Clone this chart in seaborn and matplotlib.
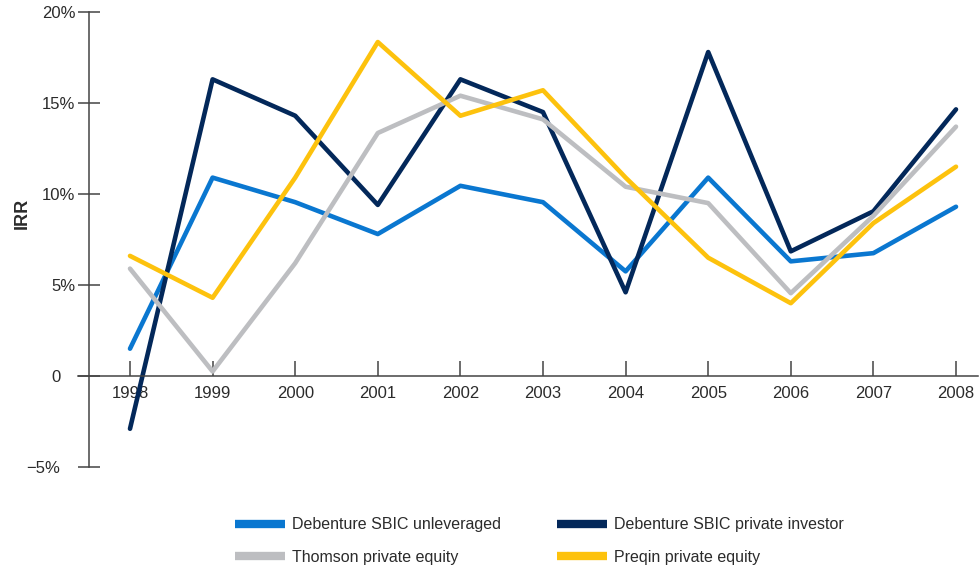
import matplotlib
matplotlib.use("Agg")
import matplotlib.pyplot as plt
import matplotlib.transforms as mtransforms
import seaborn as sns
import pandas as pd
from matplotlib.lines import Line2D

years = [1998, 1999, 2000, 2001, 2002, 2003, 2004, 2005, 2006, 2007, 2008]
unleveraged = [1.5, 10.9, 9.55, 7.8, 10.45, 9.55, 5.75, 10.9, 6.3, 6.75, 9.3]
private_investor = [-2.9, 16.3, 14.3, 9.4, 16.3, 14.5, 4.6, 17.8, 6.85, 9.05, 14.65]
thomson = [5.9, 0.25, 6.2, 13.35, 15.4, 14.1, 10.4, 9.5, 4.55, 8.8, 13.7]
preqin = [6.6, 4.3, 10.9, 18.35, 14.3, 15.7, 10.9, 6.5, 4.0, 8.4, 11.5]

series_names = ["Debenture SBIC unleveraged", "Debenture SBIC private investor",
                "Thomson private equity", "Preqin private equity"]
series_values = [unleveraged, private_investor, thomson, preqin]
colors = ["#0A77D0", "#03285A", "#BDBEC1", "#FDC20D"]

ytick_values = [-5, 0, 5, 10, 15, 20]
ytick_labels = ["\u22125%", "0", "5%", "10%", "15%", "20%"]

df = pd.concat([pd.DataFrame({"year": years, "irr": v, "series": n})
                for n, v in zip(series_names, series_values)], ignore_index=True)

sns.set_theme(style="white")
plt.rcParams["font.family"] = ["Liberation Sans", "DejaVu Sans"]
text_color = "#2b2b2b"
axis_color = "#444444"

fig = plt.figure(figsize=(9.8, 5.71), dpi=100)
ax = fig.add_axes([78 / 980, 1 - 467 / 571, 900 / 980, 455 / 571])

palette = dict(zip(series_names, colors))
sns.lineplot(data=df, x="year", y="irr", hue="series", hue_order=series_names,
             palette=palette, linewidth=3.3, legend=False, ax=ax)

ax.set_xlim(1998 - 52 / 82.6, 2008 + 22 / 82.6)
ax.set_ylim(-5, 20)

for s in ["top", "right"]:
    ax.spines[s].set_visible(False)
ax.spines["left"].set_position(("data", 1997.5))
ax.spines["bottom"].set_position(("data", 0))
for s in ["left", "bottom"]:
    ax.spines[s].set_color(axis_color)
    ax.spines[s].set_linewidth(1.1)

ax.set_xticks(years)
ax.set_xticklabels([str(y) for y in years])
ax.set_yticks(ytick_values)
ax.set_yticklabels(ytick_labels)
ax.tick_params(axis="x", direction="in", length=11, width=1.1, color=axis_color,
               labelsize=12, labelcolor=text_color, pad=7.5, bottom=True)
ax.tick_params(axis="y", direction="inout", length=16, width=1.1, color=axis_color,
               labelsize=12, labelcolor=text_color, pad=1.5, left=True)
ax.set_xlabel("")
ax.set_ylabel("")

# the "0" and "-5%" labels sit further left in the reference
for lab in ax.get_yticklabels():
    if lab.get_text() in ("0", "\u22125%"):
        off = mtransforms.ScaledTranslation(-15 / 100, 0, fig.dpi_scale_trans)
        lab.set_transform(lab.get_transform() + off)

fig.text(22 / 980, 1 - 213 / 571, "IRR", rotation=90, ha="center", va="center",
         fontsize=13, fontweight="bold", color=text_color)

order = [0, 2, 1, 3]
handles = [Line2D([], [], color=colors[i], linewidth=6, solid_capstyle="butt") for i in order]
labels = [series_names[i] for i in order]
fig.legend(handles, labels, ncol=2, loc="center left",
           bbox_to_anchor=(235 / 980, 1 - 541 / 571), frameon=False,
           fontsize=11.5, labelcolor=text_color, handlelength=3.13, handletextpad=0.44,
           columnspacing=3.5, labelspacing=1.1, borderpad=0, borderaxespad=0)

fig.savefig("out.png", dpi=100, facecolor="white")
